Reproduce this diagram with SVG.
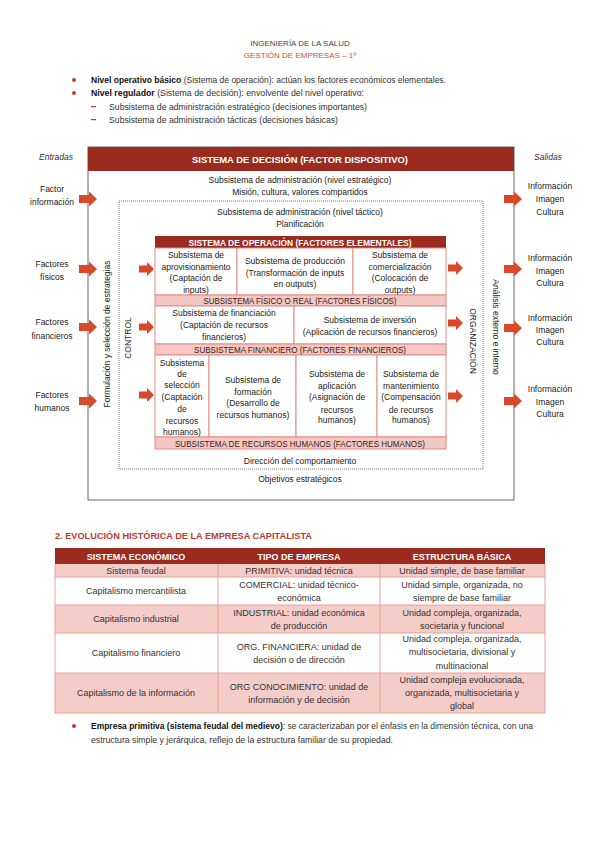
<svg xmlns="http://www.w3.org/2000/svg" width="599" height="848" viewBox="0 0 599 848">
<defs>
<style>
text{font-family:"Liberation Sans",Arial,sans-serif;fill:#222;}
.body{font-size:9px;fill:#333;}
.b{font-weight:bold;fill:#111;}
.hd{font-size:8px;fill:#444;text-anchor:middle;}
.hdr{font-size:8px;fill:#C0504D;text-anchor:middle;}
.d{font-size:8.5px;text-anchor:middle;fill:#222;}
.dl{font-size:8.5px;text-anchor:middle;fill:#222;}
.it{font-size:8.5px;font-style:italic;text-anchor:middle;fill:#333;}
.wt{font-size:9px;font-weight:bold;fill:#fff;text-anchor:middle;}
.band{font-size:8.5px;fill:#3a1c18;text-anchor:middle;}
.cell{fill:#fff;stroke:#E08C84;stroke-width:1;}
.bandr{fill:#F4C7C2;stroke:#E08C84;stroke-width:1;}
.red{fill:#9B2A1F;}
.arr{fill:#D9482B;}
.t{font-size:9px;text-anchor:middle;fill:#333;}
.pk{fill:#F4CCC8;}
.wh{fill:#fff;}
.tl{stroke:#E5A39C;stroke-width:1;fill:none;}
</style>
<path id="ar" d="M0,-4 H10 V-7.5 L18,0 L10,7.5 V4 H0 Z"/>
<path id="ars" d="M0,-3.5 H8 V-7 L15,0 L8,7 V3.5 H0 Z"/>
</defs>
<rect width="599" height="848" fill="#fff"/>

<g id="page-header">
<text class="hd" x="300" y="46">INGENIERÍA DE LA SALUD</text>
<text class="hdr" x="300" y="58">GESTIÓN DE EMPRESAS – 1º</text>
</g>

<g id="intro-bullets">
<circle cx="74" cy="80" r="2" fill="#C0392B"/>
<text class="body" x="91" y="83" textLength="355" lengthAdjust="spacingAndGlyphs"><tspan class="b">Nivel operativo básico</tspan> (Sistema de operación): actúan los factores económicos elementales.</text>
<circle cx="74" cy="93" r="2" fill="#C0392B"/>
<text class="body" x="91" y="96" textLength="273" lengthAdjust="spacingAndGlyphs"><tspan class="b">Nivel regulador</tspan> (Sistema de decisión): envolvente del nivel operativo:</text>
<rect x="91" y="106" width="5" height="1.2" fill="#C0392B"/>
<text class="body" x="109" y="110" textLength="258" lengthAdjust="spacingAndGlyphs">Subsistema de administración estratégico (decisiones importantes)</text>
<rect x="91" y="119" width="5" height="1.2" fill="#C0392B"/>
<text class="body" x="109" y="123" textLength="229" lengthAdjust="spacingAndGlyphs">Subsistema de administración tácticas (decisiones básicas)</text>
</g>

<g id="labels-io">
<text class="it" x="56" y="160">Entradas</text>
<text class="it" x="548" y="160">Salidas</text>
<text class="dl" x="52" y="192">Factor</text>
<text class="dl" x="52" y="205">información</text>
<text class="dl" x="52" y="267">Factores</text>
<text class="dl" x="52" y="280">físicos</text>
<text class="dl" x="52" y="325">Factores</text>
<text class="dl" x="52" y="339">financieros</text>
<text class="dl" x="52" y="398">Factores</text>
<text class="dl" x="52" y="411">humanos</text>
<text class="dl" x="550" y="189">Información</text>
<text class="dl" x="550" y="202">Imagen</text>
<text class="dl" x="550" y="215">Cultura</text>
<text class="dl" x="550" y="261">Información</text>
<text class="dl" x="550" y="274">Imagen</text>
<text class="dl" x="550" y="286">Cultura</text>
<text class="dl" x="550" y="321">Información</text>
<text class="dl" x="550" y="333">Imagen</text>
<text class="dl" x="550" y="345">Cultura</text>
<text class="dl" x="550" y="392">Información</text>
<text class="dl" x="550" y="405">Imagen</text>
<text class="dl" x="550" y="417">Cultura</text>
</g>

<g id="sistema-decision">
<rect x="88" y="147" width="426" height="353" fill="none" stroke="#666" stroke-width="1"/>
<rect class="red" x="88" y="147" width="426" height="24"/>
<text class="wt" x="300" y="163" textLength="216" lengthAdjust="spacingAndGlyphs">SISTEMA DE DECISIÓN (FACTOR DISPOSITIVO)</text>
<text class="d" x="300" y="183">Subsistema de administración (nivel estratégico)</text>
<text class="d" x="300" y="195">Misión, cultura, valores compartidos</text>
<text class="d" x="300" y="482">Objetivos estratégicos</text>
<text class="d" transform="translate(110,334) rotate(-90)">Formulación  y selección de estrategias</text>
<text class="d" transform="translate(493,327) rotate(90)">Análisis externo e interno</text>
</g>

<g id="nivel-tactico">
<rect x="119" y="201" width="364" height="268" fill="none" stroke="#777" stroke-width="1" stroke-dasharray="1,1"/>
<text class="d" x="300" y="215">Subsistema de administración (nivel táctico)</text>
<text class="d" x="300" y="227">Planificación</text>
<text class="d" x="300" y="464">Dirección del comportamiento</text>
<text class="d" transform="translate(131,338) rotate(-90)">CONTROL</text>
<text class="d" transform="translate(470,341) rotate(90)">ORGANIZACIÓN</text>
</g>

<g id="sistema-operacion">
<rect class="red" x="155" y="236" width="291" height="12"/>
<text class="wt" x="300" y="245.5" font-size="8.5" textLength="223" lengthAdjust="spacingAndGlyphs">SISTEMA DE OPERACIÓN (FACTORES ELEMENTALES)</text>
</g>

<g id="sub-aprovisionamiento">
<rect class="cell" x="155" y="248" width="82" height="47"/>
<text class="d" x="196" y="258">Subsistema de</text>
<text class="d" x="196" y="270">aprovisionamiento</text>
<text class="d" x="196" y="281">(Captación de</text>
<text class="d" x="196" y="293">inputs)</text>
</g>
<g id="sub-produccion">
<rect class="cell" x="237" y="248" width="116" height="47"/>
<text class="d" x="295" y="264">Subsistema de producción</text>
<text class="d" x="295" y="276">(Transformación de inputs</text>
<text class="d" x="295" y="287">en outputs)</text>
</g>
<g id="sub-comercializacion">
<rect class="cell" x="353" y="248" width="93" height="47"/>
<text class="d" x="400" y="258">Subsistema de</text>
<text class="d" x="400" y="270">comercialización</text>
<text class="d" x="400" y="281">(Colocación de</text>
<text class="d" x="400" y="293">outputs)</text>
</g>
<g id="band-fisico">
<rect class="bandr" x="155" y="295" width="291" height="11"/>
<text class="band" x="300" y="304" textLength="193" lengthAdjust="spacingAndGlyphs">SUBSISTEMA FÍSICO O REAL (FACTORES FÍSICOS)</text>
</g>
<g id="sub-financiacion">
<rect class="cell" x="155" y="306" width="139" height="38"/>
<text class="d" x="224" y="316">Subsistema de financiación</text>
<text class="d" x="224" y="328">(Captación de recursos</text>
<text class="d" x="224" y="340">financieros)</text>
</g>
<g id="sub-inversion">
<rect class="cell" x="294" y="306" width="152" height="38"/>
<text class="d" x="370" y="323">Subsistema de inversión</text>
<text class="d" x="370" y="335">(Aplicación de recursos financieros)</text>
</g>
<g id="band-financiero">
<rect class="bandr" x="155" y="344" width="291" height="11"/>
<text class="band" x="300" y="353" textLength="212" lengthAdjust="spacingAndGlyphs">SUBSISTEMA FINANCIERO (FACTORES FINANCIEROS)</text>
</g>
<g id="sub-seleccion">
<rect class="cell" x="155" y="355" width="54" height="82"/>
<text class="d" x="182" y="366">Subsistema</text>
<text class="d" x="182" y="377">de</text>
<text class="d" x="182" y="388">selección</text>
<text class="d" x="182" y="400">(Captación</text>
<text class="d" x="182" y="412">de</text>
<text class="d" x="182" y="424">recursos</text>
<text class="d" x="182" y="435">humanos)</text>
</g>
<g id="sub-formacion">
<rect class="cell" x="209" y="355" width="87" height="82"/>
<text class="d" x="253" y="383">Subsistema de</text>
<text class="d" x="253" y="395">formación</text>
<text class="d" x="253" y="406">(Desarrollo de</text>
<text class="d" x="253" y="418">recursos humanos)</text>
</g>
<g id="sub-aplicacion">
<rect class="cell" x="296" y="355" width="81" height="82"/>
<text class="d" x="337" y="377">Subsistema de</text>
<text class="d" x="337" y="389">aplicación</text>
<text class="d" x="337" y="400">(Asignación de</text>
<text class="d" x="337" y="413">recursos</text>
<text class="d" x="337" y="423">humanos)</text>
</g>
<g id="sub-mantenimiento">
<rect class="cell" x="377" y="355" width="69" height="82"/>
<text class="d" x="411" y="377">Subsistema de</text>
<text class="d" x="411" y="389">mantenimiento</text>
<text class="d" x="411" y="400">(Compensación</text>
<text class="d" x="411" y="413">de recursos</text>
<text class="d" x="411" y="423">humanos)</text>
</g>
<g id="band-humanos">
<rect class="bandr" x="155" y="437" width="291" height="12"/>
<text class="band" x="300" y="446.5" textLength="250" lengthAdjust="spacingAndGlyphs">SUBSISTEMA DE RECURSOS HUMANOS (FACTORES HUMANOS)</text>
</g>

<g id="connectors" class="arr">
<use href="#ar" x="79" y="199"/>
<use href="#ar" x="79" y="269"/>
<use href="#ar" x="79" y="327"/>
<use href="#ar" x="79" y="401"/>
<use href="#ars" x="139" y="269"/>
<use href="#ars" x="139" y="327"/>
<use href="#ars" x="139" y="395"/>
<use href="#ars" x="448" y="268"/>
<use href="#ars" x="448" y="323"/>
<use href="#ars" x="448" y="396"/>
<use href="#ar" x="504" y="199"/>
<use href="#ar" x="504" y="269"/>
<use href="#ar" x="504" y="328"/>
<use href="#ar" x="504" y="401"/>
</g>

<g id="section-title">
<text x="55" y="539" font-size="9.5" font-weight="bold" fill="#C0392B" style="fill:#C0392B" textLength="257" lengthAdjust="spacingAndGlyphs">2. EVOLUCIÓN HISTÓRICA DE LA EMPRESA CAPITALISTA</text>
</g>

<g id="table">
<rect class="red" x="55" y="548" width="490" height="16"/>
<rect class="pk" x="55" y="564" width="490" height="13"/>
<rect class="wh" x="55" y="577" width="490" height="28"/>
<rect class="pk" x="55" y="605" width="490" height="28"/>
<rect class="wh" x="55" y="633" width="490" height="40"/>
<rect class="pk" x="55" y="673" width="490" height="40"/>
<path class="tl" d="M55,564 V713 H545 V564 M55,577 H545 M55,605 H545 M55,633 H545 M55,673 H545 M218,564 V713 M380,564 V713"/>
<text class="wt" x="136" y="559.5">SISTEMA ECONÓMICO</text>
<text class="wt" x="299" y="559.5">TIPO DE EMPRESA</text>
<text class="wt" x="462" y="559.5">ESTRUCTURA BÁSICA</text>
<text class="t" x="136" y="574">Sistema feudal</text>
<text class="t" x="299" y="574">PRIMITIVA: unidad técnica</text>
<text class="t" x="462" y="574">Unidad simple, de base familiar</text>
<text class="t" x="136" y="594">Capitalismo mercantilista</text>
<text class="t" x="299" y="588">COMERCIAL: unidad técnico-</text>
<text class="t" x="299" y="601">económica</text>
<text class="t" x="462" y="588">Unidad simple, organizada, no</text>
<text class="t" x="462" y="601">siempre de base familiar</text>
<text class="t" x="136" y="622">Capitalismo industrial</text>
<text class="t" x="299" y="616">INDUSTRIAL: unidad económica</text>
<text class="t" x="299" y="629">de producción</text>
<text class="t" x="462" y="616">Unidad compleja, organizada,</text>
<text class="t" x="462" y="629">societaria y funcional</text>
<text class="t" x="136" y="656">Capitalismo financiero</text>
<text class="t" x="299" y="650">ORG. FINANCIERA: unidad de</text>
<text class="t" x="299" y="663">decisión o de dirección</text>
<text class="t" x="462" y="642">Unidad compleja, organizada,</text>
<text class="t" x="462" y="655">multisocietaria, divisional y</text>
<text class="t" x="462" y="669">multinacional</text>
<text class="t" x="136" y="696">Capitalismo de la información</text>
<text class="t" x="299" y="690">ORG CONOCIMIENTO: unidad de</text>
<text class="t" x="299" y="703">información y de decisión</text>
<text class="t" x="462" y="683">Unidad compleja evolucionada,</text>
<text class="t" x="462" y="696">organizada, multisocietaria y</text>
<text class="t" x="462" y="709">global</text>
</g>

<g id="closing-bullet">
<circle cx="74" cy="726" r="2" fill="#C0392B"/>
<text class="body" x="91" y="729" textLength="442" lengthAdjust="spacingAndGlyphs"><tspan class="b">Empresa primitiva (sistema feudal del medievo)</tspan>: se caracterizaban por el énfasis en la dimensión técnica, con una</text>
<text class="body" x="91" y="743" textLength="302" lengthAdjust="spacingAndGlyphs">estructura simple y jerárquica, reflejo de la estructura familiar de su propiedad.</text>
</g>
</svg>
